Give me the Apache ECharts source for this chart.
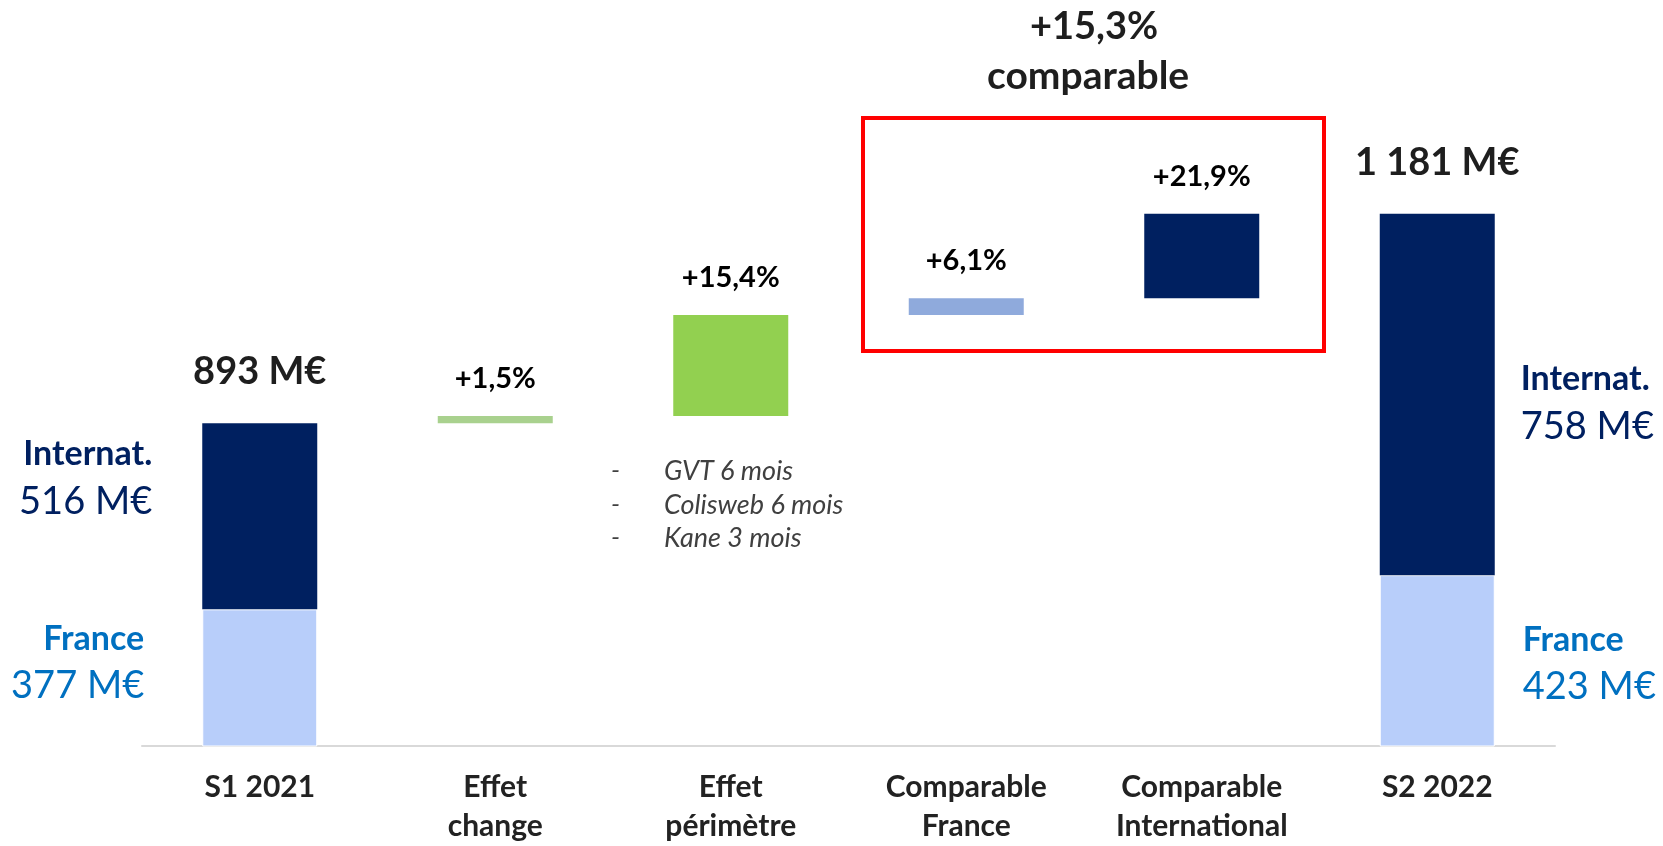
<!DOCTYPE html>
<html>
<head>
<meta charset="utf-8">
<script src="https://cdn.jsdelivr.net/npm/echarts@6/dist/echarts.min.js"></script>
<style>
  html, body { margin: 0; padding: 0; background: #fff; }
  #chart { width: 1663px; height: 846px; }
</style>
</head>
<body>
<div id="chart"></div>
<script>
// data
var categories = ['S1 2021', 'Effet\nchange', 'Effet\npérimètre', 'Comparable\nFrance', 'Comparable\nInternational', 'S2 2022'];
var totals = [893, 1181];              // S1 2021, S2 2022 (M€)
var franceValues = [377, 423];
var internatValues = [516, 758];
var franceDrawnTop = [637, 684];       // where the France block stops on the (cut) axis
var steps = [10, 139, 23, 116];        // bridge steps as drawn
var stepLabels = ['+1,5%', '+15,4%', '+6,1%', '+21,9%'];
var stepColors = ['#a9d18e', '#92d050', '#8faadc', '#002060'];
var comparableText = ['+15,3%', 'comparable'];
var perimetreNotes = ['GVT 6 mois', 'Colisweb 6 mois', 'Kane 3 mois'];

var FONT = 'Lato, "Open Sans", sans-serif';
var NAVY = '#002060', BLUE = '#0070c0', LIGHT = '#b8cefa';

var chart = echarts.init(document.getElementById('chart'));

// waterfall bases
var baseData = ['-'], stepData = ['-'];
var run = totals[0];
for (var i = 0; i < steps.length; i++) {
  baseData.push(run);
  stepData.push({
    value: steps[i],
    itemStyle: { color: stepColors[i] },
    label: { formatter: stepLabels[i] }
  });
  run += steps[i];
}
baseData.push('-');
stepData.push('-');

function sideLabel(side, title, value, color, off, dist) {
  return {
    show: true,
    position: side,
    distance: dist,
    offset: [0, off],
    formatter: '{t|' + title + '}\n{v|' + value + ' M€}',
    rich: {
      t: { fontFamily: FONT, fontSize: 34, fontWeight: 'bold', color: color, lineHeight: 44 },
      v: { fontFamily: FONT, fontSize: 38, color: color, lineHeight: 50 }
    }
  };
}

var franceData = [
  { value: franceDrawnTop[0], label: sideLabel('left', 'France', franceValues[0], BLUE, -14, 58) },
  '-', '-', '-', '-',
  { value: franceDrawnTop[1], label: sideLabel('right', 'France', franceValues[1], BLUE, 4, 28) }
];
var internatData = [
  { value: totals[0] - franceDrawnTop[0], label: sideLabel('left', 'Internat.', internatValues[0], NAVY, -37, 50) },
  '-', '-', '-', '-',
  { value: totals[1] - franceDrawnTop[1], label: sideLabel('right', 'Internat.', internatValues[1], NAVY, 10, 26) }
];

function fmtTotal(v) {
  return String(v).replace(/\B(?=(\d{3})+(?!\d))/g, ' ') + ' M€';
}

var noteEls = [];
perimetreNotes.forEach(function (t, k) {
  noteEls.push({ type: 'text', left: 611, top: 474 + k * 33.3 - 16,
    style: { text: '-', font: 'italic 26px ' + FONT, fill: '#404040' } });
  noteEls.push({ type: 'text', left: 664, top: 474 + k * 33.3 - 16,
    style: { text: t, font: 'italic 27px ' + FONT, fill: '#404040' } });
});

var option = {
  animation: false,
  backgroundColor: '#fff',
  grid: { left: 142, right: 108, top: 19, bottom: 98 },
  xAxis: {
    type: 'category',
    data: categories,
    axisLine: { lineStyle: { color: '#d9d9d9', width: 2 } },
    axisTick: { show: false },
    axisLabel: {
      margin: 22,
      interval: 0,
      fontFamily: FONT,
      fontSize: 30,
      fontWeight: 'bold',
      color: '#222',
      lineHeight: 39
    }
  },
  yAxis: {
    type: 'value',
    min: 449,
    max: 1449,
    show: false,
    splitLine: { show: false }
  },
  series: [
    {
      name: 'base', type: 'bar', stack: 'w', barWidth: 115,
      itemStyle: { color: 'transparent' },
      data: baseData
    },
    {
      name: 'steps', type: 'bar', stack: 'w', barWidth: 115,
      label: {
        show: true, position: 'top', distance: 23,
        fontFamily: FONT, fontSize: 29, fontWeight: 'bold', color: '#000'
      },
      data: stepData
    },
    {
      name: 'France', type: 'bar', stack: 'w', barWidth: 115,
      itemStyle: { color: LIGHT, borderColor: '#fff', borderWidth: 1 },
      data: franceData
    },
    {
      name: 'Internat.', type: 'bar', stack: 'w', barWidth: 115,
      itemStyle: { color: NAVY },
      data: internatData
    },
    {
      name: 'total', type: 'scatter', symbolSize: 0,
      itemStyle: { opacity: 1 },
      label: {
        show: true, position: 'top', distance: 32,
        fontFamily: FONT, fontSize: 38, fontWeight: 'bold', color: '#1e1e1e',
        formatter: function (p) { return fmtTotal(p.value); }
      },
      data: [totals[0], '-', '-', '-', '-', totals[1]]
    }
  ],
  graphic: [
    {
      type: 'rect',
      shape: { x: 863, y: 118, width: 461, height: 233 },
      style: { fill: 'none', stroke: '#ff0000', lineWidth: 4 }
    },
    {
      type: 'text', top: 8, left: 1092 - 62,
      style: { text: comparableText[0], font: 'bold 38px ' + FONT, fill: '#1e1e1e' }
    },
    {
      type: 'text', top: 57, left: 1092 - 105,
      style: { text: comparableText[1], font: 'bold 39px ' + FONT, fill: '#1e1e1e' }
    }
  ].concat(noteEls)
};

chart.setOption(option);
</script>
</body>
</html>
